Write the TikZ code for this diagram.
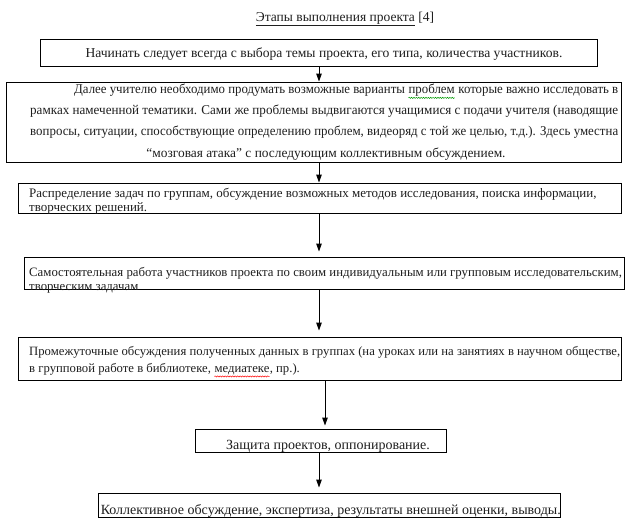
\documentclass[tikz,border=0pt]{standalone}
\usepackage{graphicx}
\usepackage{fontspec}
\setmainfont{Liberation Serif}
\usetikzlibrary{arrows.meta,decorations.pathmorphing}
\newcommand{\fs}[1]{\fontsize{#1}{#1}\selectfont}
\newcommand{\wavyword}[2]{\tikz[baseline=(w.base)]{\node[inner sep=0pt,font=] (w) {#2};
  \draw[#1,line width=0.5pt,decorate,decoration={snake,amplitude=0.6pt,segment length=2.5pt}]
  ([yshift=-1.8pt]w.south west) -- ([yshift=-1.8pt]w.south east);}}
\begin{document}
\begin{tikzpicture}[x=1pt,y=-1pt,
  box/.style={draw=black,line width=0.9pt,inner sep=0pt,rectangle},
  txt/.style={inner sep=0pt,text=black!88},
  arr/.style={draw=black,line width=0.9pt,-{Triangle[length=8pt,width=5.5pt]}}]
\useasboundingbox[fill=white] (0,0) rectangle (634,522);
\coordinate (ax) at (319,0);
\coordinate (ax2) at (325,0);
% title
\node[txt,font=\fs{13.5},anchor=base] (title) at (345,21) {\underline{Этапы выполнения проекта} [4]};
% boxes
\node[box,minimum width=557pt,minimum height=27pt] (b1) at (318.5,52.5) {};
\node[box,minimum width=615pt,minimum height=80pt] (b2) at (313.5,122) {};
\node[box,minimum width=603pt,minimum height=30pt] (b3) at (319.5,198) {};
\node[box,minimum width=600pt,minimum height=32pt] (b4) at (324,273) {};
\node[box,minimum width=603pt,minimum height=43pt] (b5) at (319.5,358.5) {};
\node[box,minimum width=251pt,minimum height=23pt] (b6) at (320.5,440.5) {};
\node[box,minimum width=462pt,minimum height=24pt] (b7) at (329,505) {};
% texts
\node[txt,font=\fs{13.6},anchor=base] (t1) at (324,57.5) {Начинать следует всегда с выбора темы проекта, его типа, количества участников.};
\node[txt,font=\fs{13.4},anchor=base west] (t2a) at (74,93) {\resizebox{544pt}{\height}{Далее учителю необходимо продумать возможные варианты \wavyword{green!60!black}{проблем} которые важно исследовать в}};
\node[txt,font=\fs{13.4},anchor=base west] (t2b) at (30,114) {\resizebox{588pt}{\height}{рамках намеченной тематики. Сами же проблемы выдвигаются учащимися с подачи учителя (наводящие}};
\node[txt,font=\fs{13.4},anchor=base west] (t2c) at (30,135) {\resizebox{588pt}{\height}{вопросы, ситуации, способствующие определению проблем, видеоряд с той же целью, т.д.). Здесь уместна}};
\node[txt,font=\fs{13.4},anchor=base] (t2d) at (326,157) {“мозговая атака” с последующим коллективным обсуждением.};
\node[txt,font=\fs{13},anchor=base west] (t3a) at (29,197) {Распределение задач по группам, обсуждение возможных методов исследования, поиска информации,};
\node[txt,font=\fs{13},anchor=base west] (t3b) at (29,211) {творческих решений.};
\node[txt,font=\fs{12.8},anchor=base west] (t4a) at (29,276) {Самостоятельная работа участников проекта по своим индивидуальным или групповым исследовательским,};
\node[txt,font=\fs{12.8},anchor=base west] (t4b) at (29,290) {творческим задачам};
\node[txt,font=\fs{12.7},anchor=base west] (t5a) at (29,355) {Промежуточные обсуждения полученных данных в группах (на уроках или на занятиях в научном обществе,};
\node[txt,font=\fs{12.7},anchor=base west] (t5b) at (29,372) {в групповой работе в библиотеке, \wavyword{red}{медиатеке}, пр.).};
\node[txt,font=\fs{14},anchor=base] (t6) at (328,449) {Защита проектов, оппонирование.};
\node[txt,font=\fs{14},anchor=base east] (t7) at (561,514) {Коллективное обсуждение, экспертиза, результаты внешней оценки, выводы.};
% arrows
\draw[arr] (b1.south -| ax) -- (b2.north -| ax);
\draw[arr] (b2.south -| ax) -- (b3.north -| ax);
\draw[arr,shorten >=5pt] (b3.south -| ax) -- (b4.north -| ax);
\draw[arr,shorten >=6pt] (b4.south -| ax) -- (b5.north -| ax);
\draw[arr,shorten >=3pt] (b5.south -| ax2) -- (b6.north -| ax2);
\draw[arr,shorten >=5pt] (b6.south -| ax) -- (b7.north -| ax);
\end{tikzpicture}
\end{document}
